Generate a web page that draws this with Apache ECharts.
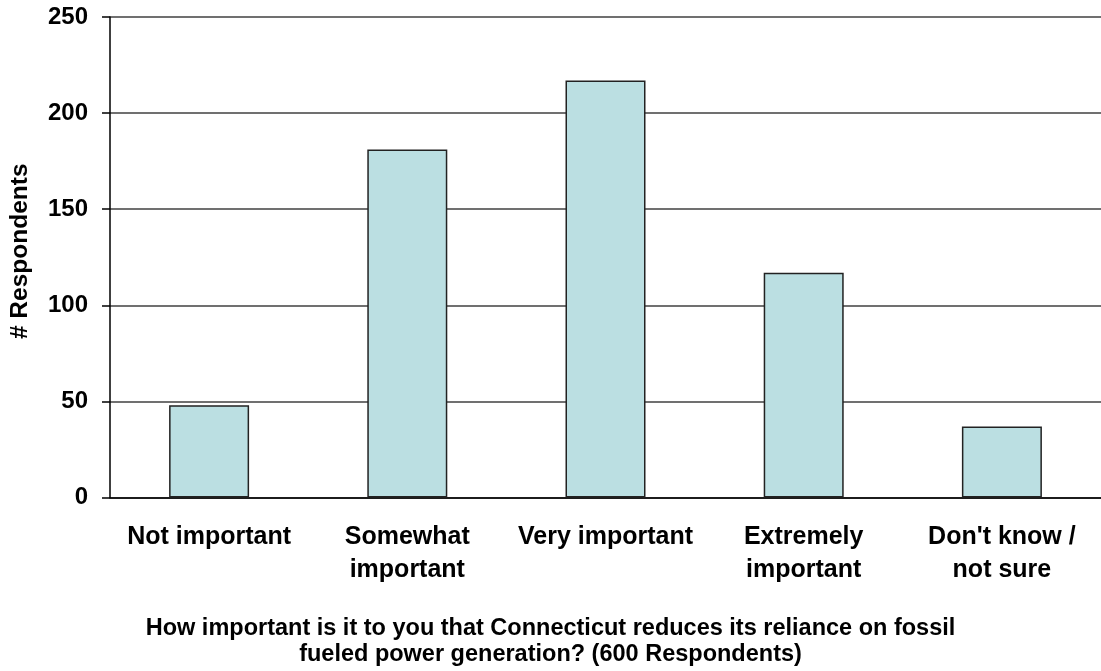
<!DOCTYPE html>
<html>
<head>
<meta charset="utf-8">
<title># Respondents</title>
<script src="https://cdn.jsdelivr.net/npm/echarts@6/dist/echarts.min.js"></script>
<style>
  html, body { margin: 0; padding: 0; background: #ffffff; }
  #chart { width: 1101px; height: 671px; }
</style>
</head>
<body>
<div id="chart"></div>
<script>
// Survey answers and respondent counts
const categories = [
  'Not important',
  'Somewhat\nimportant',
  'Very important',
  'Extremely\nimportant',
  "Don't know /\nnot sure"
];
const respondents = [48, 181, 217, 117, 37];
const yTicks = [0, 50, 100, 150, 200, 250];
const question = 'How important is it to you that Connecticut reduces its reliance on fossil\nfueled power generation? (600 Respondents)';
const yTitle = '# Respondents';

const FONT = '"Liberation Sans", Arial, Helvetica, sans-serif';

const chart = echarts.init(document.getElementById('chart'), null, { renderer: 'canvas' });

chart.setOption({
  backgroundColor: '#ffffff',
  animation: false,
  title: {
    text: question,
    left: 'center',
    top: 611,
    textStyle: {
      fontFamily: FONT,
      fontWeight: 'bold',
      fontSize: 23.5,
      lineHeight: 26,
      color: '#000000',
      align: 'center'
    }
  },
  grid: {
    left: 110,
    top: 17,
    width: 1000,
    height: 480.5,
    containLabel: false
  },
  xAxis: {
    type: 'category',
    data: categories,
    axisTick: { show: false },
    axisLine: { show: true, lineStyle: { color: '#000000', width: 1.5 } },
    axisLabel: {
      interval: 0,
      margin: 23,
      fontFamily: FONT,
      fontWeight: 'bold',
      fontSize: 25,
      lineHeight: 33,
      color: '#000000'
    },
    splitLine: { show: false }
  },
  yAxis: {
    type: 'value',
    min: yTicks[0],
    max: yTicks[yTicks.length - 1],
    interval: yTicks[1] - yTicks[0],
    name: yTitle,
    nameLocation: 'middle',
    nameRotate: 90,
    nameGap: 77,
    nameTextStyle: {
      fontFamily: FONT,
      fontWeight: 'bold',
      fontSize: 24.5,
      color: '#000000',
      padding: [0, 0, 0, 12]
    },
    axisLine: { show: true, lineStyle: { color: '#000000', width: 1.5 } },
    axisTick: { show: true, inside: false, length: 8, lineStyle: { color: '#000000', width: 1.5 } },
    axisLabel: {
      margin: 22,
      fontFamily: FONT,
      fontWeight: 'bold',
      fontSize: 24,
      color: '#000000'
    },
    splitLine: { show: true, lineStyle: { color: '#404040', width: 1.5 } }
  },
  series: [{
    type: 'bar',
    data: respondents,
    barWidth: 80,
    itemStyle: {
      color: '#bbdfe2',
      borderColor: '#222222',
      borderWidth: 1.5
    }
  }]
});
</script>
</body>
</html>
